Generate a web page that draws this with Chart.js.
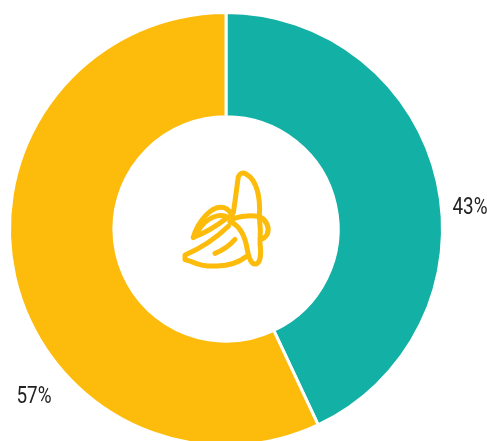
<!DOCTYPE html>
<html lang="en">
<head>
  <meta charset="UTF-8" />
  <title>Banana share</title>
  <script src="https://cdn.jsdelivr.net/npm/chart.js"></script>
<style>
  html, body {
    margin: 0;
    padding: 0;
    background: #fff;
    width: 487px;
    height: 441px;
    overflow: hidden;
  }
  canvas { display: block; }
</style>
</head>
<body>
  <canvas id="shareChart" width="487" height="458"></canvas>

  <script>
  const categories = ["Teal", "Yellow"];
  const shareValues = [43, 57];
  const sliceColors = ["#13B0A5", "#FDBC0B"];

  // Outside labels sit at fixed spots, they don't follow the slice midpoints
  const labelSpots = [
    { x: 470, y: 208 },
    { x: 34, y: 397 }
  ];

  const percentLabels = {
    id: "percentLabels",
    afterDraw(chart) {
      const ctx = chart.ctx;
      ctx.fillStyle = "#222";
      ctx.textAlign = "center";
      ctx.textBaseline = "middle";
      ctx.font = "23px Roboto, sans-serif";
      shareValues.forEach((value, i) => {
        // squeeze the text sideways for a condensed look
        ctx.save();
        ctx.translate(labelSpots[i].x, labelSpots[i].y);
        ctx.scale(0.82, 1);
        ctx.fillText(value + "%", 0, 0);
        ctx.restore();
      });
    }
  };

  // Peeled banana line icon in the hole
  const bananaIcon = {
    id: "bananaIcon",
    afterDraw(chart) {
      const ctx = chart.ctx;
      const strokes = [
        "M190 158 C196 120 200 85 205 50 Q212 34 228 42 C260 60 272 110 268 168",
        "M188 176 C220 166 250 166 268 170 C288 178 300 202 292 222 C286 234 278 238 271 234",
        "M180 185 C205 195 225 225 232 270 C236 295 245 315 258 312 C272 308 274 280 270 250 C272 225 272 200 268 172",
        "M70 232 C82 188 125 132 162 143 C176 148 185 160 190 176",
        "M70 232 C110 218 140 198 174 172 C150 160 112 168 85 212",
        "M176 198 C132 240 85 268 45 285 L45 299 L65 305 C100 322 180 328 228 290",
        "M135 280 C160 270 180 255 195 238"
      ];
      ctx.save();
      ctx.translate(170, 160);
      ctx.scale(1 / 3, 1 / 3);
      ctx.strokeStyle = sliceColors[1];
      ctx.lineWidth = 15;
      ctx.lineCap = "round";
      ctx.lineJoin = "round";
      strokes.forEach(d => ctx.stroke(new Path2D(d)));
      ctx.restore();
    }
  };

  new Chart(document.getElementById("shareChart").getContext("2d"), {
    type: "doughnut",
    data: {
      labels: categories,
      datasets: [{
        data: shareValues,
        backgroundColor: sliceColors,
        borderColor: "#fff",
        borderWidth: 3
      }]
    },
    options: {
      responsive: false,
      animation: false,
      cutout: "51.8%",
      layout: { padding: { top: 11, bottom: 11, left: 8, right: 43 } },
      plugins: {
        legend: { display: false },
        tooltip: { enabled: false }
      }
    },
    plugins: [bananaIcon, percentLabels]
  });
  </script>
</body>
</html>
